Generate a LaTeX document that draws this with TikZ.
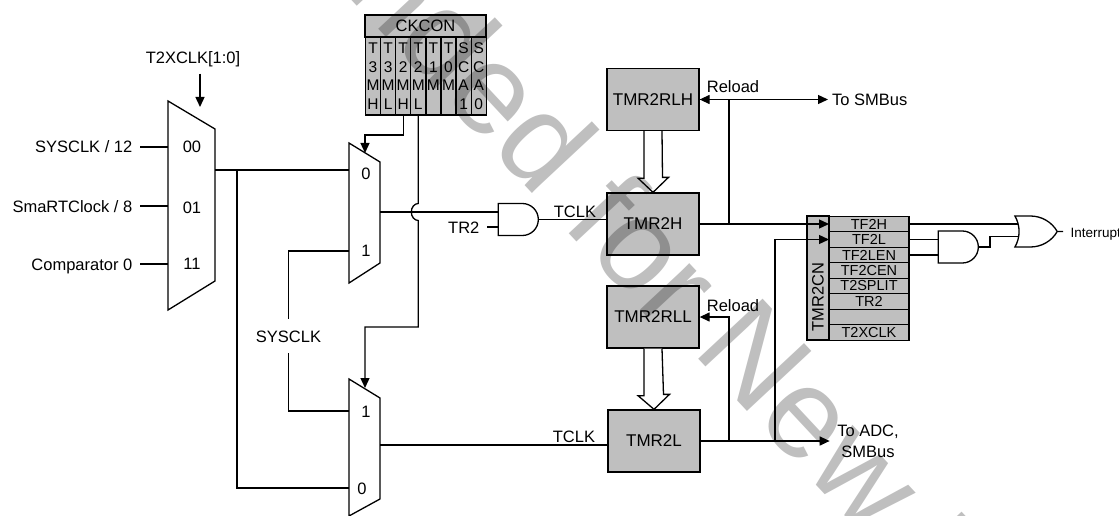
\documentclass[tikz,border=0pt]{standalone}
\usepackage{fontspec}
\setmainfont{Liberation Sans}
\definecolor{boxgray}{rgb}{0.75,0.75,0.75}
\usetikzlibrary{calc,chains,positioning}
\usetikzlibrary{arrows.meta}
\usetikzlibrary{shapes.gates.logic.US}
\tikzset{
	>={Triangle[width=9pt,length=10pt]},
	wire/.style={line width=1.3pt},
	tmrbox/.style={
		draw, rectangle, fill=boxgray, line width=1.3pt,
		minimum width=92pt, minimum height=62pt,
		inner sep=0pt, font=\fontsize{17}{18}\selectfont
	},
	regcell/.style={
		draw, rectangle, fill=boxgray, line width=1.3pt, outer sep=0pt,
		minimum width=15.1pt, minimum height=78pt, inner sep=0pt,
		align=center, font=\fontsize{15.5}{18.6}\selectfont, on chain
	},
	regrow/.style={
		draw, rectangle, fill=boxgray, line width=1.3pt, outer sep=0pt,
		minimum width=80pt, minimum height=15.5pt, inner sep=0pt,
		font=\fontsize{14.5}{15}\selectfont, on chain
	},
	lab/.style={
		inner xsep=3.5pt, inner ysep=0pt, text height=12pt, text depth=0pt,
		font=\fontsize{16.5}{18}\selectfont
	},
	gate/.style={draw, line width=1.3pt, fill=white, inner sep=0pt}
}

\begin{document}
\begin{tikzpicture}[x=1pt,y=-1pt,wire]
  \useasboundingbox (0,0) rectangle (1119,516);
  % muxes
  \draw (168,101) -- (215,129) -- (215,281) -- (168,310) -- cycle;
  \draw (349,143) -- (380,162) -- (380,263) -- (349,283) -- cycle;
  \draw (349,379) -- (380,398) -- (380,499) -- (349,516) -- cycle;
  \coordinate (m1a) at (168,147);
  \coordinate (m1b) at (168,206);
  \coordinate (m1c) at (168,264);
  \coordinate (m1sel) at (200,107);
  \coordinate (m1out) at (215,170);
  \coordinate (split) at (237,170);
  \coordinate (m2a) at (349,170);
  \coordinate (m2b) at (349,251);
  \coordinate (m2sel) at (365,153);
  \coordinate (m2out) at (380,212);
  \coordinate (m3a) at (349,411);
  \coordinate (m3b) at (349,488);
  \coordinate (m3sel) at (365,388);
  \coordinate (m3out) at (380,445);
  \node[lab] at (192,147) (d00) {00};
  \node[lab] at (192,207) (d01) {01};
  \node[lab] at (192,263) (d11) {11};
  \node[lab] at (366,173) (d20) {0};
  \node[lab] at (366,250) (d21) {1};
  \node[lab] at (366,411) (d31) {1};
  \node[lab] at (362,488) (d30) {0};

  % inputs
  \node[lab,anchor=east,inner xsep=7pt] at (140,147) (sclk) {SYSCLK / 12};
  \node[lab,anchor=east,inner xsep=7pt] at (140,206) (rtc) {SmaRTClock / 8};
  \node[lab,anchor=east,inner xsep=7pt] at (140,264) (cmp) {Comparator 0};
  \node[lab] at (193,58) (t2x) {T2XCLK[1:0]};
  \node[lab,inner ysep=10pt] at (288.5,336) (sysclk) {SYSCLK};
  \draw (sclk) -- (m1a);
  \draw (rtc) -- (m1b);
  \draw (cmp) -- (m1c);
  \draw[->,shorten <=9pt] (t2x.south -| m1sel) -- (m1sel);
  \draw (m1out) -- (m2a);
  \draw (split) |- (m3b);
  \draw (m2b) -| (sysclk);
  \draw (m3a) -| (sysclk);

  % CKCON
  \node[draw,fill=boxgray,minimum width=121pt,minimum height=22pt,inner sep=0pt,
    font=\fontsize{16.5}{18}\selectfont] at (425.5,26) (ckcon) {CKCON};
  \begin{scope}[start chain=going right,node distance=0pt]
    \node[regcell] at (373,76) (t3mh) {T\\3\\M\\H};
    \node[regcell] (t3ml) {T\\3\\M\\L};
    \node[regcell] (t2mh) {T\\2\\M\\H};
    \node[regcell] (t2ml) {T\\2\\M\\L};
    \node[regcell] (t1m) {T\\1\\M\\~};
    \node[regcell] (t0m) {T\\0\\M\\~};
    \node[regcell] (sca1) {S\\C\\A\\1};
    \node[regcell] (sca0) {S\\C\\A\\0};
  \end{scope}
  \draw[->] (t2mh.south) -- ++(0,20) -| (m2sel);
  \draw[->] (t2ml.south) -- ($(t2ml.south |- m2out)+(0,-8.5)$)
    arc[start angle=-90,end angle=-270,x radius=7,y radius=8.5]
    -- ($(t2ml.south |- m3sel)+(0,-61)$) -| (m3sel);

  % timers
  \node[tmrbox] at (653,99.5) (rlh) {TMR2RLH};
  \node[tmrbox] at (653,224) (hi) {TMR2H};
  \node[tmrbox] at (653,317) (rll) {TMR2RLL};
  \node[tmrbox] at (654,441) (lo) {TMR2L};
  \draw[fill=white] ($(rlh.south)+(-9,0)$) -- ++(0,47) -- ++(-6,0)
    -- (hi.north) -- ++(15.5,-15) -- ++(-6,0) -- ($(rlh.south)+(9,0)$);
  \draw[fill=white] ($(rll.south)+(-9,0)$) -- ++(0,47) -- ++(-6,0)
    -- (lo.north) -- ++(15.5,-15) -- ++(-6,0) -- ($(rll.south)+(9,0)$);

  % and gate of the clock path
  \node[gate,and gate US,logic gate inputs=nn,minimum height=32pt,minimum width=40pt]
    at (517,219.5) (and1) {};
  \node[lab,inner xsep=7pt,anchor=east] at (487,227) (tr2) {TR2};
  \draw (m2out) -- (m2out -| and1.input 1);
  \draw (tr2.east) -- (tr2.east -| and1.input 2);
  \draw (and1.output) -- (and1.output -| hi.west);
  \draw (m3out) -- (m3out -| lo.west);
  \node[lab] at (575,211) (clkh) {TCLK};
  \node[lab] at (574,436) (clkl) {TCLK};

  % TMR2CN
  \node[draw,fill=boxgray,minimum width=22pt,minimum height=124pt,inner sep=0pt,outer sep=0pt]
    at (818,278) (cn) {};
  \node[rotate=90,inner sep=0pt,font=\fontsize{16.5}{18}\selectfont] at (818,297) (cnname) {TMR2CN};
  \begin{scope}[start chain=going below,node distance=0pt]
    \node[regrow] at (869,224) (tfh) {TF2H};
    \node[regrow] (tfl) {TF2L};
    \node[regrow] (tflen) {TF2LEN};
    \node[regrow] (tfcen) {TF2CEN};
    \node[regrow] (split2) {T2SPLIT};
    \node[regrow] (trun) {TR2};
    \node[regrow] (blank) {};
    \node[regrow] (txclk) {T2XCLK};
  \end{scope}

  % outputs
  \node[lab,anchor=west] at (828,100) (tosmb) {To SMBus};
  \node[lab,align=center,inner xsep=7pt,text height=,text depth=,
    font=\fontsize{16.5}{21}\selectfont] at (868,441) (toadc) {To ADC,\\SMBus};
  \node[lab] at (733,87) (relh) {Reload};
  \node[lab] at (733,305) (rell) {Reload};
  \coordinate (junh) at (729,224);
  \coordinate (junl) at (729,441);
  \coordinate (junf) at (775,441);
  \draw[<->] (rlh.east) -- (rlh.east -| tosmb.west);
  \draw (junh) -- (junh |- rlh.east);
  \draw[->] (hi.east) -- (tfh.west);
  \draw[->] (lo.east) -- (toadc);
  \draw[->] (junl) |- (rll.east);
  \draw[->] (junf) |- (tfl.west);

  % interrupt logic
  \node[gate,and gate US,logic gate inputs=nn,minimum height=32pt,minimum width=40pt]
    at (957,247) (and2) {};
  \node[gate,or gate US,logic gate inputs=nn,minimum height=31pt,minimum width=40pt]
    at (1033,231.5) (or1) {};
  \node[lab,anchor=west,inner xsep=7pt,font=\fontsize{13.5}{15}\selectfont] at (1063,231) (irq) {Interrupt};
  \draw (tfh.east) -- (tfh.east -| or1.input 1);
  \draw (tfl.east) -- (tfl.east -| and2.input 1);
  \draw (tflen.east) -- (tflen.east -| and2.input 2);
  \draw (and2.output) -- ++(11,0) |- (or1.input 2);
  \draw (or1.output) -- (irq);

  % watermark
  \begin{scope}[blend mode=multiply]
    \clip (0,0) rectangle (1119,516);
    \node[rotate=-47,anchor=base west,inner sep=0pt,text=boxgray,font=\fontsize{128}{130}\selectfont]
      at (691,351) (wmb) {New D};
    \node[rotate=-47,anchor=base east,inner sep=0pt,text=boxgray,font=\fontsize{128}{130}\selectfont]
      at (679,351) (wma) {ended for\,};
  \end{scope}
\end{tikzpicture}
\end{document}
